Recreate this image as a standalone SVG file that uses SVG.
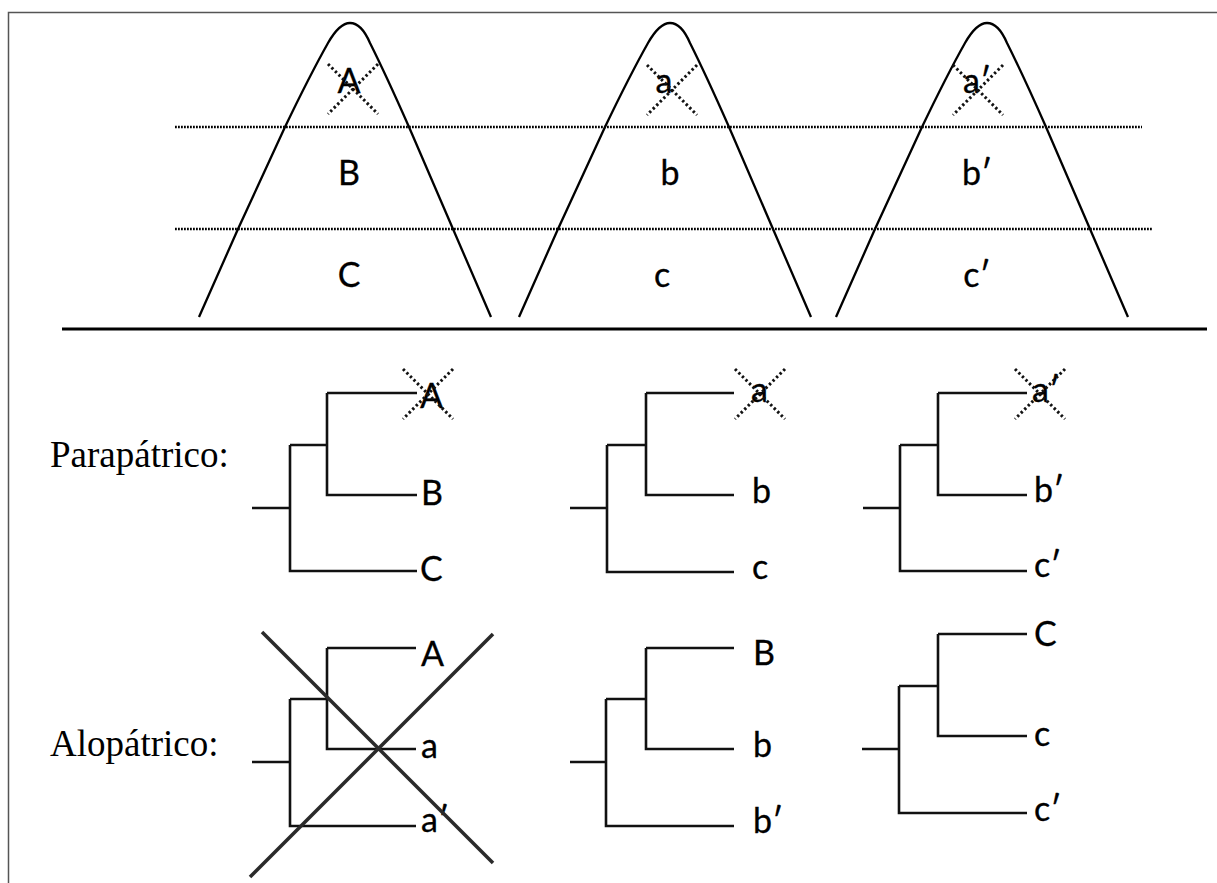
<svg xmlns="http://www.w3.org/2000/svg" width="1217" height="883" viewBox="0 0 1217 883">
<defs>
<style>
.frame{fill:none;stroke:#555;stroke-width:1.5}
.mtn{fill:none;stroke:#000;stroke-width:2.3;stroke-linejoin:round}
.zone{stroke:#000;stroke-width:2.4;stroke-dasharray:1.8 1.2;fill:none}
.cross{stroke:#111;stroke-width:3;stroke-dasharray:2.4 2.6;fill:none}
.ground{stroke:#000;stroke-width:3}
.br{fill:none;stroke:#111;stroke-width:2.6;stroke-linejoin:miter}
.big{stroke:#2a2a2a;stroke-width:3.5}
.lab{font-family:Lato,"Open Sans","Liberation Sans",sans-serif;font-size:34px;fill:#000;stroke:#000;stroke-width:0.3}
.mlab{font-family:Lato,"Open Sans","Liberation Sans",sans-serif;font-size:34px;fill:#000;stroke:#000;stroke-width:0.3;text-anchor:middle}
.title{font-family:"Liberation Serif","Times New Roman",serif;font-size:37px;fill:#000}
</style>
<path id="mshape" d="M-151,317 L-112,229 L-65,127 Q-40,75 -22,43 C-14,29 -7,23 0,23 C7,23 14,29 20,43 Q36,75 59,127 L103,229 L141,317"/>
<path id="xshape" d="M-25,-25 L25,25 M25,-25 L-25,25"/>
</defs>
<path class="frame" d="M8.5,883 V12.5 H1217"/>
<g id="mountains">
<g id="mountain1"><use href="#mshape" class="mtn" x="350" y="0"/></g>
<g id="mountain2"><use href="#mshape" class="mtn" x="670" y="0"/></g>
<g id="mountain3"><use href="#mshape" class="mtn" x="987" y="0"/></g>
</g>
<g id="zones">
<line class="zone" x1="175" y1="127" x2="1142" y2="127"/>
<line class="zone" x1="175" y1="229" x2="1153" y2="229"/>
</g>
<line class="ground" x1="62" y1="329" x2="1207" y2="329"/>
<g id="mountain-labels">
<text class="mlab" x="349" y="93">A</text>
<text class="mlab" x="349" y="185">B</text>
<text class="mlab" x="349" y="287">C</text>
<text class="mlab" x="664" y="93">a</text>
<text class="mlab" x="670" y="185">b</text>
<text class="mlab" x="662" y="287">c</text>
<text class="mlab" x="977" y="93">a′</text>
<text class="mlab" x="977" y="185">b′</text>
<text class="mlab" x="977" y="287">c′</text>
</g>
<g id="mountain-crosses">
<use href="#xshape" class="cross" x="353" y="89"/>
<use href="#xshape" class="cross" x="672" y="90"/>
<use href="#xshape" class="cross" x="978" y="90"/>
</g>
<text class="title" x="50" y="467">Parapátrico:</text>
<text class="title" x="50" y="756">Alopátrico:</text>
<g id="connectors">
<path class="br" d="M252,508 H290 M290,445 V571 H417 M290,445 H327 M327,393 V495 H417 M327,393 H417"/>
<path class="br" d="M570,508 H607 M607,445 V572 H734 M607,445 H646 M646,393 V495 H734 M646,393 H734"/>
<path class="br" d="M863,508 H900 M900,445 V571 H1027 M900,445 H938 M938,393 V495 H1027 M938,393 H1027"/>
<path class="br" d="M252,762 H290 M290,699 V826 H416 M290,699 H327 M327,648 V749 H416 M327,648 H416"/>
<path class="br" d="M570,762 H606 M606,699 V826 H734 M606,699 H646 M646,648 V749 H734 M646,648 H734"/>
<path class="br" d="M862,749 H899 M899,686 V813 H1027 M899,686 H938 M938,634 V736 H1027 M938,634 H1027"/>
</g>
<g id="tree1">
<text class="lab" x="420" y="408">A</text>
<text class="lab" x="421" y="505">B</text>
<text class="lab" x="420" y="581">C</text>
<use href="#xshape" class="cross" x="428" y="394"/>
</g>
<g id="tree2">
<text class="lab" x="751" y="402">a</text>
<text class="lab" x="752" y="503">b</text>
<text class="lab" x="752" y="579">c</text>
<use href="#xshape" class="cross" x="760" y="394"/>
</g>
<g id="tree3">
<text class="lab" x="1032" y="402">a′</text>
<text class="lab" x="1034" y="502">b′</text>
<text class="lab" x="1034" y="577">c′</text>
<use href="#xshape" class="cross" x="1040" y="394"/>
</g>
<g id="tree4">
<text class="lab" x="421" y="666">A</text>
<text class="lab" x="421" y="758">a</text>
<text class="lab" x="421" y="832">a′</text>
</g>
<g id="tree5">
<text class="lab" x="753" y="665">B</text>
<text class="lab" x="753" y="757">b</text>
<text class="lab" x="753" y="833">b′</text>
</g>
<g id="tree6">
<text class="lab" x="1034" y="646">C</text>
<text class="lab" x="1034" y="746">c</text>
<text class="lab" x="1034" y="821">c′</text>
</g>
<g id="strike">
<line class="big" x1="262" y1="632" x2="493" y2="863"/>
<line class="big" x1="493" y1="634" x2="250" y2="877"/>
</g>
</svg>
